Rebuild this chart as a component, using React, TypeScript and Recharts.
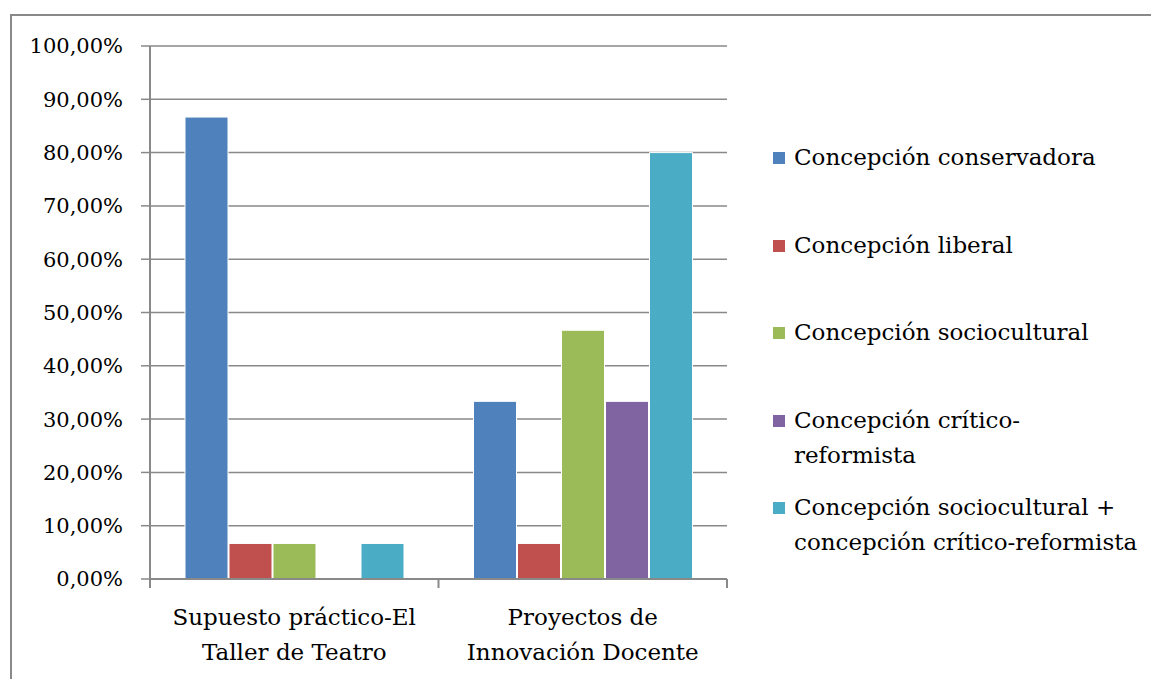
import React from 'react';
import { BarChart, Bar, XAxis, YAxis, CartesianGrid, Legend } from 'recharts';

const CATEGORIES = ['Supuesto práctico-El\nTaller de Teatro', 'Proyectos de\nInnovación Docente'];

const CONSERVADORA = [86.67, 33.33];
const LIBERAL = [6.67, 6.67];
const SOCIOCULTURAL = [6.67, 46.67];
const CRITICO = [0, 33.33];
const MIXTA = [6.67, 80];

const Y_TICKS = [0, 10, 20, 30, 40, 50, 60, 70, 80, 90, 100];

const SERIES = [
  { key: 'conservadora', name: 'Concepción conservadora', values: CONSERVADORA, color: '#4f81bd' },
  { key: 'liberal', name: 'Concepción liberal', values: LIBERAL, color: '#c0504d' },
  { key: 'sociocultural', name: 'Concepción sociocultural', values: SOCIOCULTURAL, color: '#9bbb59' },
  { key: 'critico', name: 'Concepción crítico-\nreformista', values: CRITICO, color: '#8064a2' },
  { key: 'mixta', name: 'Concepción sociocultural +\nconcepción crítico-reformista', values: MIXTA, color: '#4bacc6' },
];

const FONT = '"DejaVu Serif", serif';
const GRID = '#898989';

const data = CATEGORIES.map((name, i) => {
  const row: { [k: string]: string | number } = { name };
  SERIES.forEach((s) => {
    row[s.key] = s.values[i];
  });
  return row;
});

const formatPct = (v: number) => v.toFixed(2).replace('.', ',') + '%';

const CategoryTick = (props: any) => {
  const { x, y, payload, width, visibleTicksCount, index } = props;
  const band = width / visibleTicksCount;
  const lines = String(payload.value).split('\n');
  return (
    <g>
      <line x1={x - band / 2} x2={x - band / 2} y1={y} y2={y + 9} stroke={GRID} strokeWidth={2} />
      {index === visibleTicksCount - 1 && (
        <line x1={x + band / 2} x2={x + band / 2} y1={y} y2={y + 9} stroke={GRID} strokeWidth={2} />
      )}
      <text textAnchor="middle" fontFamily={FONT} fontSize={23} fill="#000">
        {lines.map((l, i) => (
          <tspan key={i} x={x} y={y + 46 + i * 35}>
            {l}
          </tspan>
        ))}
      </text>
    </g>
  );
};

// keep legend in series order (recharts sorts it by name otherwise)
const LegendContent = (props: any) => {
  const payload = [...(props.payload || [])].sort(
    (a: any, b: any) =>
      SERIES.findIndex((s) => s.key === a.dataKey) - SERIES.findIndex((s) => s.key === b.dataKey)
  );
  return (
    <div style={{ fontFamily: FONT, fontSize: 23, color: '#000' }}>
      {payload.map((p: any, i: number) => (
        <div key={i} style={{ height: 87.5, display: 'flex', alignItems: 'flex-start' }}>
          <div style={{ width: 12, height: 12, background: p.color, marginTop: 12, marginRight: 9, flex: 'none' }} />
          <div style={{ whiteSpace: 'pre-line', lineHeight: '35px' }}>{p.value}</div>
        </div>
      ))}
    </div>
  );
};

export default function App() {
  return (
    <div style={{ position: 'absolute', left: 0, top: 0, width: 1151, height: 679, background: '#fff' }}>
      <div
        style={{
          position: 'absolute',
          left: 10,
          top: 14,
          width: 1141,
          height: 665,
          boxSizing: 'border-box',
          borderTop: `2px solid ${GRID}`,
          borderLeft: `2px solid ${GRID}`,
        }}
      />
      <div style={{ position: 'absolute', left: 0, top: 0 }}>
        <BarChart
          width={1151}
          height={679}
          data={data}
          margin={{ top: 46, right: 424, bottom: 10, left: 0 }}
          barCategoryGap={35}
          barGap={1}
        >
          <CartesianGrid vertical={false} stroke={GRID} strokeWidth={1.5} />
          <YAxis
            width={150}
            domain={[0, 100]}
            ticks={Y_TICKS}
            interval={0}
            tickFormatter={formatPct}
            tickSize={9}
            tickMargin={18}
            tickLine={{ stroke: GRID, strokeWidth: 1.5 }}
            axisLine={{ stroke: GRID, strokeWidth: 2 }}
            tick={{ fontFamily: FONT, fontSize: 21, fill: '#000' }}
          />
          <XAxis
            dataKey="name"
            height={90}
            interval={0}
            tickSize={0}
            tickMargin={0}
            tickLine={false}
            axisLine={{ stroke: GRID, strokeWidth: 2 }}
            tick={<CategoryTick />}
          />
          <Legend
            layout="vertical"
            align="center"
            verticalAlign="middle"
            content={<LegendContent />}
            wrapperStyle={{ left: 773, top: 140, width: 378 }}
          />
          {SERIES.map((s) => (
            <Bar
              key={s.key}
              dataKey={s.key}
              name={s.name}
              fill={s.color}
              stroke="#ffffff"
              strokeWidth={1}
              isAnimationActive={false}
            />
          ))}
        </BarChart>
      </div>
    </div>
  );
}
